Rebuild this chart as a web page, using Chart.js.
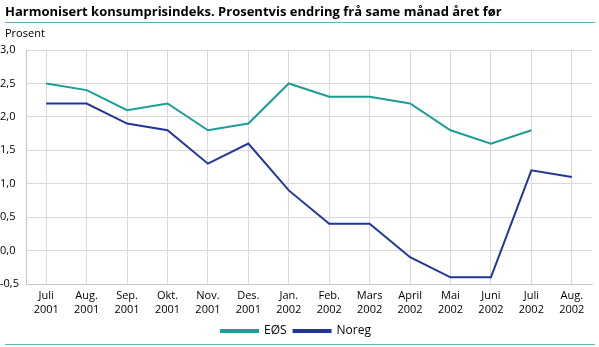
<!DOCTYPE html>
<html>
<head>
<meta charset="utf-8">
<script src="https://cdn.jsdelivr.net/npm/chart.js@4"></script>
<style>
  html, body { margin: 0; padding: 0; background: #fff; }
  #wrap { position: relative; width: 599px; height: 347px; }
</style>
</head>
<body>
<div id="wrap"><canvas id="kpiChart" width="599" height="347"></canvas></div>
<script>
const maanader = [
    ['Juli', '2001'], ['Aug.', '2001'], ['Sep.', '2001'], ['Okt.', '2001'],
    ['Nov.', '2001'], ['Des.', '2001'], ['Jan.', '2002'], ['Feb.', '2002'],
    ['Mars', '2002'], ['April', '2002'], ['Mai', '2002'], ['Juni', '2002'],
    ['Juli', '2002'], ['Aug.', '2002']
];
const eosVerdiar = [2.5, 2.4, 2.1, 2.2, 1.8, 1.9, 2.5, 2.3, 2.3, 2.2, 1.8, 1.6, 1.8, null];
const noregVerdiar = [2.2, 2.2, 1.9, 1.8, 1.3, 1.6, 0.9, 0.4, 0.4, -0.1, -0.4, -0.4, 1.2, 1.1];

const tittel = 'Harmonisert konsumprisindeks. Prosentvis endring frå same månad året før';
const fargeEos = '#1c9d95';
const fargeNoreg = '#21359a';
const fontFamilie = "'Open Sans', sans-serif";

// tittel, linjer over og under, og eininga over y-aksen
const rammePlugin = {
    id: 'ramme',
    beforeDraw(chart) {
        const ctx = chart.ctx;
        ctx.save();
        ctx.fillStyle = '#000';
        ctx.textBaseline = 'alphabetic';
        ctx.textAlign = 'left';
        ctx.font = "bold 13px " + fontFamilie;
        ctx.fillText(tittel, 5, 16);
        ctx.font = "11px " + fontFamilie;
        ctx.fillText('Prosent', 5, 37);
        ctx.strokeStyle = '#5cb8b2';
        ctx.lineWidth = 1;
        ctx.beginPath();
        ctx.moveTo(5, 22.5); ctx.lineTo(595, 22.5);
        ctx.moveTo(5, 344.5); ctx.lineTo(595, 344.5);
        ctx.stroke();
        ctx.restore();
    }
};

new Chart(document.getElementById('kpiChart'), {
    type: 'line',
    data: {
        labels: maanader,
        datasets: [
            {
                label: 'EØS',
                data: eosVerdiar,
                borderColor: fargeEos,
                backgroundColor: fargeEos,
                borderWidth: 2,
                pointRadius: 0,
                tension: 0
            },
            {
                label: 'Noreg',
                data: noregVerdiar,
                borderColor: fargeNoreg,
                backgroundColor: fargeNoreg,
                borderWidth: 2,
                pointRadius: 0,
                tension: 0
            }
        ]
    },
    options: {
        responsive: false,
        animation: false,
        layout: { padding: { top: 50, right: 7, left: 0, bottom: 0 } },
        plugins: {
            legend: {
                position: 'bottom',
                labels: {
                    boxWidth: 37,
                    boxHeight: 2,
                    padding: 7,
                    color: '#000',
                    font: { family: fontFamilie, size: 12 }
                }
            },
            tooltip: { enabled: false }
        },
        scales: {
            x: {
                offset: true,
                grid: { offset: false, color: '#d9d9d9', drawTicks: false },
                border: { color: '#c8c8c8' },
                ticks: {
                    color: '#000',
                    maxRotation: 0,
                    autoSkip: false,
                    padding: 5,
                    font: { family: fontFamilie, size: 11, lineHeight: 1.25 }
                },
                afterFit(scale) { scale.height = 34; }
            },
            y: {
                min: -0.5,
                max: 3,
                grid: { color: '#d9d9d9', drawTicks: false },
                border: { color: '#c8c8c8' },
                ticks: {
                    stepSize: 0.5,
                    color: '#000',
                    crossAlign: 'far',
                    padding: 4,
                    font: { family: fontFamilie, size: 11 },
                    callback: v => v.toFixed(1).replace('.', ',')
                },
                afterFit(scale) { scale.width = 26; }
            }
        }
    },
    plugins: [rammePlugin]
});
</script>
</body>
</html>
